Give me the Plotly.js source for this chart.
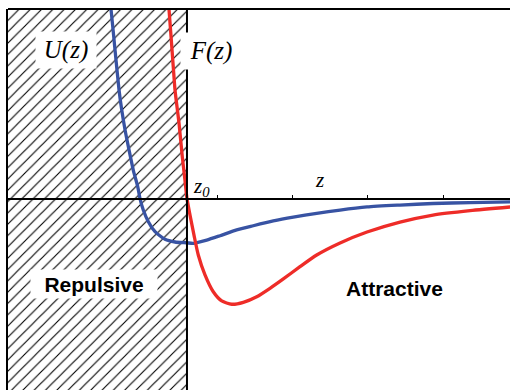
<!DOCTYPE html>
<html>
<head>
<meta charset="utf-8">
<script src="https://cdn.plot.ly/plotly-3.0.1.min.js"></script>
<style>
  html, body { margin: 0; padding: 0; background: #fff; }
  #chart { width: 510px; height: 390px; }
</style>
</head>
<body>
<div id="chart"></div>
<script>
// Separation z (arbitrary units); z0 is the equilibrium separation where F(z) = 0
const Z0 = 0.601;
const X_RANGE = [-1.775, 4.889];
const Y_RANGE = [-1.0, 0.99];
const TICK_Z = [1, 2, 3, 4];

// Interaction potential U(z)
const zU = [-0.447, -0.408, -0.354, -0.301, -0.265, -0.221, -0.168, -0.112, -0.053, -0.023,
            0.021, 0.088, 0.177, 0.309, 0.442, 0.597, 0.685, 0.863, 1.040, 1.261,
            1.481, 1.747, 2.012, 2.323, 2.633, 2.991, 3.429, 3.867, 4.359, 4.890];
const U  = [1.110, 0.990, 0.775, 0.567, 0.462, 0.358, 0.253, 0.149, 0.062, 0.000,
            -0.060, -0.121, -0.173, -0.213, -0.227, -0.231, -0.234, -0.217, -0.194, -0.164,
            -0.142, -0.117, -0.097, -0.077, -0.060, -0.044, -0.034, -0.026, -0.021, -0.017];

// Force F(z)
const zF = [0.335, 0.362, 0.419, 0.442, 0.495, 0.539, 0.574, 0.601, 0.641, 0.694,
            0.751, 0.840, 0.950, 1.062, 1.195, 1.349, 1.527, 1.703, 1.880, 2.101,
            2.323, 2.633, 2.991, 3.429, 3.867, 4.359, 4.890];
const F  = [1.110, 0.990, 0.688, 0.567, 0.394, 0.218, 0.097, 0.000, -0.086, -0.191,
            -0.295, -0.399, -0.487, -0.535, -0.552, -0.542, -0.513, -0.469, -0.420, -0.356,
            -0.295, -0.232, -0.175, -0.123, -0.086, -0.063, -0.044];

const SERIF = 'Liberation Serif, Times New Roman, serif';
const SANS = 'Liberation Sans, Arial, sans-serif';

// Hatched repulsive region, from the left edge up to z0
const repulsive = {
  x: [X_RANGE[0], Z0, Z0, X_RANGE[0], X_RANGE[0]],
  y: [Y_RANGE[0] - 0.1, Y_RANGE[0] - 0.1, Y_RANGE[1] + 0.1, Y_RANGE[1] + 0.1, Y_RANGE[0] - 0.1],
  mode: 'lines',
  fill: 'toself',
  fillcolor: 'rgba(0,0,0,0)',
  fillpattern: { shape: '/', size: 8, solidity: 0.14, fgcolor: '#000', bgcolor: '#fff' },
  line: { width: 0 },
  hoverinfo: 'skip',
  showlegend: false
};

const potential = {
  x: zU, y: U, mode: 'lines',
  line: { color: '#3853a3', width: 3.3, shape: 'spline', smoothing: 0.6 },
  showlegend: false
};

const force = {
  x: zF, y: F, mode: 'lines',
  line: { color: '#ee2c28', width: 3.3, shape: 'spline', smoothing: 0.6 },
  showlegend: false
};

const PW = 502, PH = 381, ML = 8, MT = 9;
const px = p => (p - ML) / PW;
const py = p => 1 - (p - MT) / PH;

const label = (text, x, y, font, extra) => Object.assign({
  text, xref: 'paper', yref: 'paper', x: px(x), y: py(y),
  xanchor: 'center', yanchor: 'middle', showarrow: false, font
}, extra || {});

const layout = {
  width: 510, height: 390,
  margin: { l: ML, r: 0, t: MT, b: 0, pad: 0 },
  paper_bgcolor: '#fff', plot_bgcolor: '#fff',
  showlegend: false,
  xaxis: {
    range: X_RANGE, anchor: 'free', position: (0 - Y_RANGE[0]) / (Y_RANGE[1] - Y_RANGE[0]),
    showline: true, linecolor: '#000', linewidth: 2,
    ticks: 'inside', ticklen: 3, tickwidth: 1, tickcolor: '#000',
    tickvals: TICK_Z, showticklabels: false,
    showgrid: false, zeroline: false, fixedrange: true
  },
  yaxis: {
    range: Y_RANGE, showline: true, linecolor: '#000', linewidth: 2.5,
    ticks: '', showticklabels: false, showgrid: false, zeroline: false, fixedrange: true
  },
  shapes: [
    { type: 'line', xref: 'paper', yref: 'paper', x0: 0, x1: 1, y0: 1, y1: 1,
      line: { color: '#000', width: 2 } },
    { type: 'line', xref: 'x', yref: 'paper', x0: Z0, x1: Z0, y0: 0, y1: 1,
      line: { color: '#000', width: 2 } }
  ],
  annotations: [
    label('<i>U(z)</i>', 66, 50, { family: SERIF, size: 25, color: '#000' },
          { bgcolor: '#fff', width: 56, height: 32, borderpad: 2 }),
    label('<i>F(z)</i>', 211, 51, { family: SERIF, size: 25, color: '#000' },
          { bgcolor: '#fff', width: 56, height: 32, borderpad: 2 }),
    label('<i>z<sub>0</sub></i>', 191, 187, { family: SERIF, size: 21, color: '#000' },
          { xanchor: 'left' }),
    label('<i>z</i>', 319, 180, { family: SERIF, size: 21, color: '#000' }),
    label('<b>Repulsive</b>', 94, 284, { family: SANS, size: 21, color: '#000' },
          { bgcolor: '#fff', width: 122, height: 24, borderpad: 2 }),
    label('<b>Attractive</b>', 394, 288, { family: SANS, size: 21, color: '#000' })
  ]
};

Plotly.newPlot('chart', [repulsive, potential, force], layout, { displayModeBar: false, staticPlot: true });
</script>
</body>
</html>
